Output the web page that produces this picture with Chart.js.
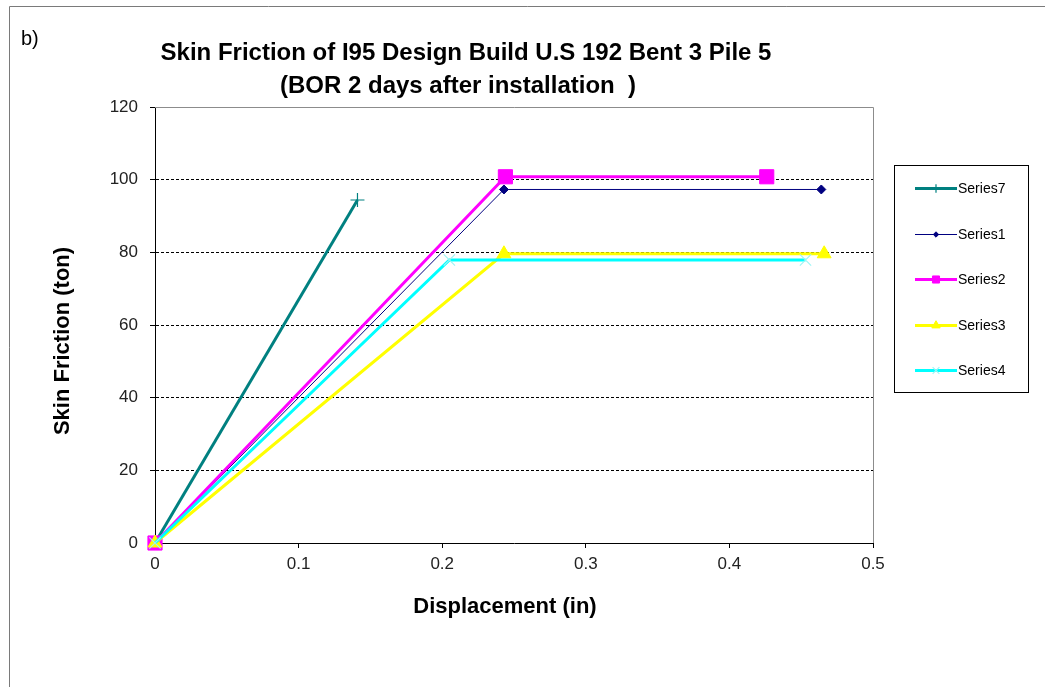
<!DOCTYPE html>
<html>
<head>
<meta charset="utf-8">
<script src="https://cdn.jsdelivr.net/npm/chart.js@4/dist/chart.umd.min.js"></script>
<style>
  html, body { margin: 0; padding: 0; background: #fff; }
  #wrap { position: relative; width: 1045px; height: 687px; }
</style>
</head>
<body>
<div id="wrap"><canvas id="c" width="1045" height="687"></canvas></div>
<script>
// ---- data ----
const seriesNames = ["Series7", "Series1", "Series2", "Series3", "Series4"];
const series7X = [0, 0.141];
const series7Y = [0, 94.4];
const series1X = [0, 0.243, 0.464];
const series1Y = [0, 97.3, 97.3];
const series2X = [0, 0.244, 0.426];
const series2Y = [0, 100.8, 100.8];
const series3X = [0, 0.243, 0.466];
const series3Y = [0, 79.6, 79.6];
const series4X = [0, 0.205, 0.453];
const series4Y = [0, 77.9, 77.9];
const xTicks = [0, 0.1, 0.2, 0.3, 0.4, 0.5];
const yTicks = [0, 20, 40, 60, 80, 100, 120];

const titleLine1 = "Skin Friction of I95 Design Build U.S 192 Bent 3 Pile 5";
const titleLine2 = "(BOR 2 days after installation  )";
const xTitle = "Displacement (in)";
const yTitle = "Skin Friction (ton)";
const panelLabel = "b)";

function pts(xs, ys) { return xs.map((x, i) => ({ x: x, y: ys[i] })); }

const FONT = "'Liberation Sans', Arial, sans-serif";

const datasets = [
  { label: seriesNames[0], data: pts(series7X, series7Y), borderColor: '#008080', borderWidth: 3,
    pointStyle: 'cross', pointRadius: 7, pointBorderWidth: 1.2, pointBorderColor: '#008080', pointBackgroundColor: '#008080', order: 5 },
  { label: seriesNames[1], data: pts(series1X, series1Y), borderColor: '#000080', borderWidth: 1,
    pointStyle: 'rectRot', pointRadius: 4.5, pointBorderWidth: 1, pointBorderColor: '#000080', pointBackgroundColor: '#000080', order: 4 },
  { label: seriesNames[2], data: pts(series2X, series2Y), borderColor: '#FF00FF', borderWidth: 3,
    pointStyle: 'rect', pointRadius: 10, pointBorderWidth: 1, pointBorderColor: '#FF00FF', pointBackgroundColor: '#FF00FF', order: 3 },
  { label: seriesNames[3], data: pts(series3X, series3Y), borderColor: '#FFFF00', borderWidth: 3,
    pointStyle: 'triangle', pointRadius: 8, pointBorderWidth: 1, pointBorderColor: '#FFFF00', pointBackgroundColor: '#FFFF00', order: 2 },
  { label: seriesNames[4], data: pts(series4X, series4Y), borderColor: '#00FFFF', borderWidth: 3,
    pointStyle: 'crossRot', pointRadius: 8, pointBorderWidth: 1.2, pointBorderColor: '#9FF5F5', pointBackgroundColor: '#9FF5F5', order: 1 }
];
datasets.forEach(d => { d.fill = false; d.tension = 0; d.showLine = true; d.clip = false; });

const decorPlugin = {
  id: 'decor',
  beforeDatasetsDraw(chart) {
    const { ctx, chartArea: a } = chart;
    ctx.save();
    ctx.strokeStyle = '#8c8c8c';
    ctx.lineWidth = 1;
    ctx.beginPath();
    ctx.moveTo(a.left, a.top + 0.5);
    ctx.lineTo(a.right + 0.5, a.top + 0.5);
    ctx.lineTo(a.right + 0.5, a.bottom);
    ctx.stroke();
    ctx.restore();
  },
  afterDraw(chart) {
    const { ctx } = chart;
    ctx.save();
    // outer frame (left and top edges visible)
    ctx.strokeStyle = '#7a7a7a';
    ctx.lineWidth = 1;
    ctx.beginPath();
    ctx.moveTo(9.5, 700);
    ctx.lineTo(9.5, 6.5);
    ctx.lineTo(1100, 6.5);
    ctx.stroke();

    ctx.fillStyle = '#000';
    ctx.textBaseline = 'middle';
    ctx.textAlign = 'left';
    ctx.font = '20px ' + FONT;
    ctx.fillText(panelLabel, 21, 39);

    ctx.textAlign = 'center';
    ctx.font = 'bold 24px ' + FONT;
    ctx.fillText(titleLine1, 466, 53);
    ctx.fillText(titleLine2, 458, 86);

    ctx.font = 'bold 22px ' + FONT;
    ctx.fillText(xTitle, 505, 607);
    ctx.save();
    ctx.translate(63, 341);
    ctx.rotate(-Math.PI / 2);
    ctx.fillText(yTitle, 0, 0);
    ctx.restore();

    // legend
    const L = 894.5, T = 165.5, R = 1028.5, B = 392.5;
    ctx.strokeStyle = '#000';
    ctx.lineWidth = 1;
    ctx.strokeRect(L, T, R - L, B - T);
    const ys = [188, 234, 279, 325, 370];
    ctx.font = '14px ' + FONT;
    ctx.textAlign = 'left';
    chart.data.datasets.forEach((d, i) => {
      const y = d.borderWidth % 2 === 1 ? ys[i] + 0.5 : ys[i];
      ctx.strokeStyle = d.borderColor;
      ctx.lineWidth = d.borderWidth;
      ctx.beginPath();
      ctx.moveTo(915, y);
      ctx.lineTo(957, y);
      ctx.stroke();
      ctx.fillStyle = d.pointBackgroundColor;
      ctx.strokeStyle = d.pointBorderColor;
      ctx.lineWidth = d.pointBorderWidth;
      Chart.helpers.drawPoint(ctx, { pointStyle: d.pointStyle, radius: Math.min(d.pointRadius * 0.6, 5), rotation: 0, borderWidth: d.pointBorderWidth }, 936, y);
      ctx.fillStyle = '#000';
      ctx.fillText(d.label, 958, ys[i] + 1);
    });
    ctx.restore();
  }
};

new Chart(document.getElementById('c'), {
  type: 'line',
  data: { datasets: datasets },
  plugins: [decorPlugin],
  options: {
    responsive: false,
    devicePixelRatio: 1,
    animation: false,
    layout: { padding: { top: 107, right: 172, bottom: 114, left: 0 } },
    plugins: { legend: { display: false }, title: { display: false }, tooltip: { enabled: false } },
    scales: {
      x: {
        type: 'linear', min: 0, max: 0.5,
        afterFit(s) { s.height = 30; },
        afterBuildTicks(s) { s.ticks = xTicks.map(v => ({ value: v })); },
        ticks: { font: { family: FONT, size: 17 }, color: '#222', padding: 6,
                 callback: v => String(+v.toFixed(1)), maxRotation: 0 },
        grid: { drawOnChartArea: false, drawTicks: true, tickLength: 5, tickColor: '#000', tickWidth: 1 },
        border: { display: true, color: '#000', width: 1 }
      },
      y: {
        type: 'linear', min: 0, max: 120,
        afterFit(s) { s.width = 155; },
        afterBuildTicks(s) { s.ticks = yTicks.map(v => ({ value: v })); },
        ticks: { font: { family: FONT, size: 17 }, color: '#222', padding: 12 },
        grid: {
          drawOnChartArea: true, drawTicks: true, tickLength: 5,
          color: ctx => (ctx.tick && (ctx.tick.value === 0 || ctx.tick.value === 120)) ? 'rgba(0,0,0,0)' : '#000',
          tickColor: '#000', lineWidth: 1, tickBorderDash: []
        },
        border: { display: true, color: '#000', width: 1, dash: [3, 2] }
      }
    }
  }
});
</script>
</body>
</html>
